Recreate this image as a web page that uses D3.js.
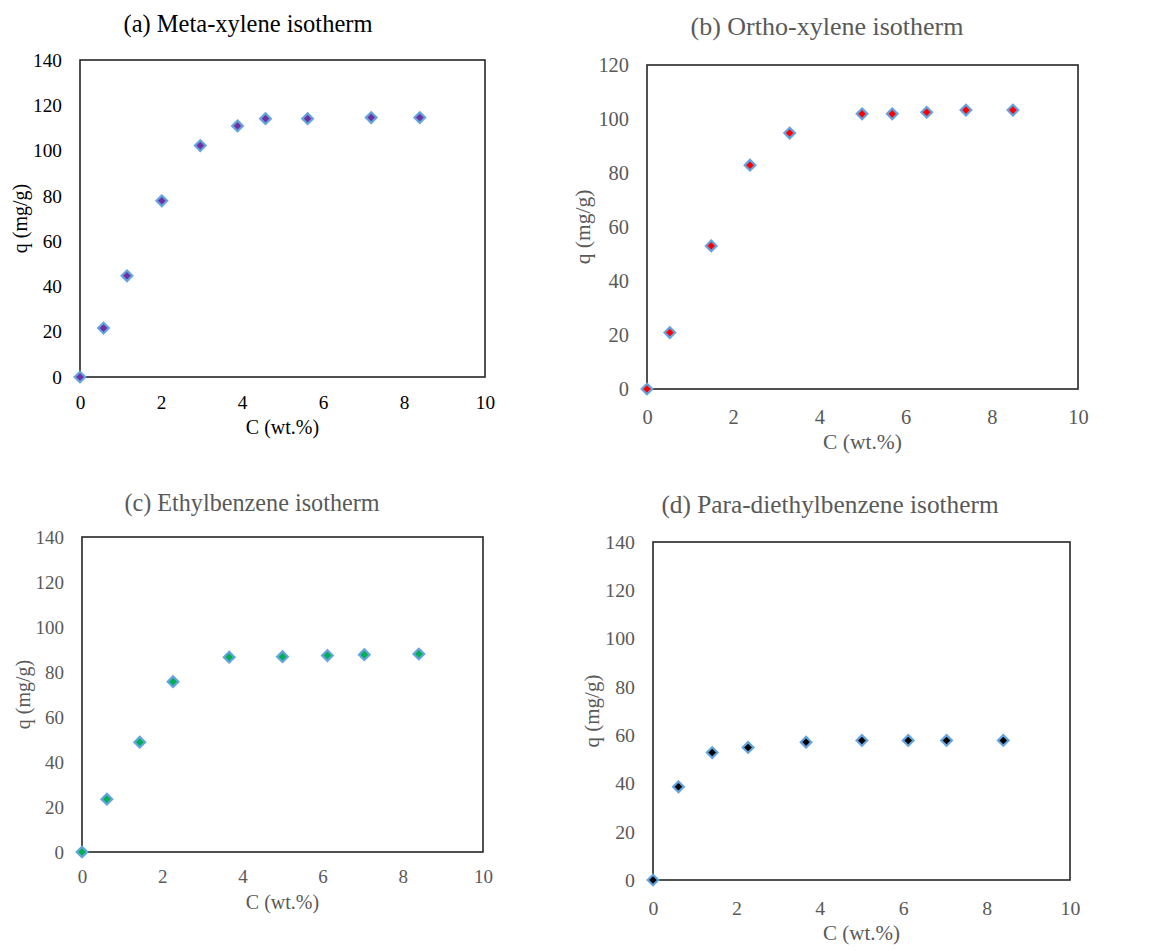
<!DOCTYPE html>
<meta charset="utf-8">
<head>
  <meta charset="utf-8">
  <title>adsorption isotherms</title>
  <script src="https://d3js.org/d3.v7.min.js"></script>
</head>

<style>
body {margin:0; background:#fff;}
svg text {font-family: "Liberation Serif", "Times New Roman", serif;}
.frame {fill: none; stroke: #262626; stroke-width: 1.6px;}
.dot {stroke: #62a3e0; stroke-width: 2.2px;}
</style>

<body>
<script>

// data
var titles = ["(a) Meta-xylene isotherm", "(b) Ortho-xylene isotherm",
              "(c) Ethylbenzene isotherm", "(d) Para-diethylbenzene isotherm"];

var metaC  = [0, 0.58, 1.16, 2.02, 2.97, 3.89, 4.58, 5.62, 7.19, 8.39];
var metaQ  = [0, 21.6, 44.7, 77.8, 102.2, 110.9, 114.1, 114.1, 114.6, 114.6];

var orthoC = [0, 0.53, 1.49, 2.39, 3.31, 4.99, 5.69, 6.49, 7.40, 8.49];
var orthoQ = [0, 20.9, 53.0, 82.9, 94.8, 101.9, 101.9, 102.5, 103.3, 103.3];

var ethylC = [0, 0.62, 1.44, 2.27, 3.67, 5.00, 6.12, 7.04, 8.40];
var ethylQ = [0, 23.5, 48.8, 75.7, 86.6, 86.8, 87.3, 87.7, 88.0];

var pdebC  = [0, 0.61, 1.42, 2.28, 3.67, 5.01, 6.12, 7.04, 8.40];
var pdebQ  = [0, 38.6, 52.8, 54.9, 57.1, 57.8, 57.8, 57.8, 57.8];

var xTicks = [0, 2, 4, 6, 8, 10];
var yMax   = [140, 120, 140, 140];
var xLabel = "C (wt.%)",
    yLabel = "q (mg/g)";

// layout of each panel (pixels)
var panels = [
  {c: metaC,  q: metaQ,  fill: "#7030a0", text: "#000000",
   box: [80, 60, 485, 377],  title: [248, 32, 24.5], tick: 19.3, lab: 20,  yl: 20,  tb: 32},
  {c: orthoC, q: orthoQ, fill: "#ff0000", text: "#595959",
   box: [647, 65, 1078, 389], title: [827, 35, 26],  tick: 20.4, lab: 21.5, yl: 583, tb: 35},
  {c: ethylC, q: ethylQ, fill: "#00b050", text: "#595959",
   box: [82, 537, 483, 852], title: [252, 511, 24.2], tick: 19, lab: 20, yl: 23, tb: 32},
  {c: pdebC,  q: pdebQ,  fill: "#000000", text: "#595959",
   box: [653, 542, 1070, 880], title: [830, 513, 25.3], tick: 19.8, lab: 21, yl: 592, tb: 35}
];

var svg = d3.select("body").append("svg")
    .attr("width", 1149)
    .attr("height", 951);

var diamond = d3.symbol().type(d3.symbolDiamond2).size(72);

panels.forEach(function(p, i) {
  var x0 = p.box[0], y0 = p.box[1], x1 = p.box[2], y1 = p.box[3];

  var x = d3.scaleLinear().domain([0, 10]).range([x0, x1]);
  var y = d3.scaleLinear().domain([0, yMax[i]]).range([y1, y0]);

  var g = svg.append("g");

  // title
  g.append("text")
      .attr("x", p.title[0])
      .attr("y", p.title[1])
      .attr("text-anchor", "middle")
      .style("font-size", p.title[2] + "px")
      .style("fill", p.text)
      .text(titles[i]);

  // y axis, labels only like excel
  var ya = g.append("g")
      .attr("transform", "translate(" + x0 + ",0)")
      .call(d3.axisLeft(y).tickValues(d3.range(0, yMax[i] + 1, 20)).tickSize(0).tickPadding(18))
      .attr("font-family", null);
  ya.select(".domain").remove();
  ya.selectAll("text")
      .style("font-size", p.tick + "px")
      .style("fill", p.text);

  // x axis
  var xa = g.append("g")
      .attr("transform", "translate(0," + y1 + ")")
      .call(d3.axisBottom(x).tickValues(xTicks).tickSize(0).tickPadding(p.tb - 14))
      .attr("font-family", null);
  xa.select(".domain").remove();
  xa.selectAll("text")
      .style("font-size", p.tick + "px")
      .style("fill", p.text);

  // plot frame
  g.append("rect")
      .attr("class", "frame")
      .attr("x", x0)
      .attr("y", y0)
      .attr("width", x1 - x0)
      .attr("height", y1 - y0);

  // axis titles
  g.append("text")
      .attr("x", (x0 + x1) / 2)
      .attr("y", y1 + p.tb + 25)
      .attr("text-anchor", "middle")
      .style("font-size", p.lab + "px")
      .style("fill", p.text)
      .text(xLabel);

  g.append("text")
      .attr("transform", "translate(" + (p.yl + 7) + "," + ((y0 + y1) / 2) + ") rotate(-90)")
      .attr("text-anchor", "middle")
      .style("font-size", p.lab + "px")
      .style("fill", p.text)
      .text(yLabel);

  // points
  var pts = p.c.map(function(c, j) { return {c: c, q: p.q[j]}; });
  g.selectAll(".dot")
      .data(pts)
    .enter().append("path")
      .attr("class", "dot")
      .attr("d", diamond)
      .attr("transform", function(d) { return "translate(" + x(d.c) + "," + y(d.q) + ")"; })
      .style("fill", p.fill);
});

</script>
</body>
